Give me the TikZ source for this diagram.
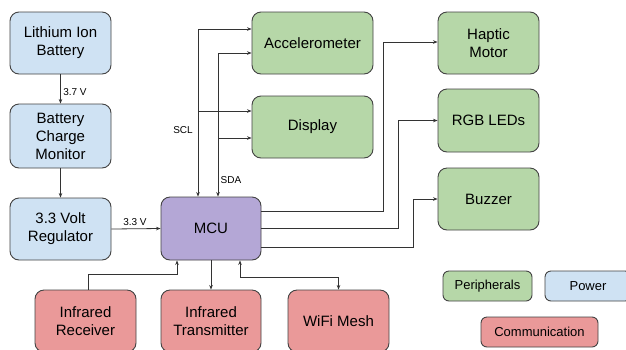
\documentclass[tikz,border=0pt]{standalone}
\usepackage{fontspec}
\setmainfont{Liberation Sans}
\usetikzlibrary{arrows.meta,calc}
\definecolor{pwr}{HTML}{CFE2F3}
\definecolor{per}{HTML}{B6D7A8}
\definecolor{mcuc}{HTML}{B4A7D6}
\definecolor{com}{HTML}{EA9999}
\definecolor{edge}{HTML}{434343}
\definecolor{wire}{HTML}{333333}
\tikzset{
  box/.style={draw=edge, line width=0.9pt, rounded corners=9pt, inner sep=0pt, align=center,
    font=\fontsize{15}{18}\selectfont, minimum width=101pt, minimum height=62pt},
  pbox/.style={box, fill=pwr},
  gbox/.style={box, fill=per},
  rbox/.style={box, fill=com},
  lgd/.style={draw=edge, line width=0.9pt, rounded corners=6pt, inner sep=0pt,
    font=\fontsize{13}{15}\selectfont, minimum height=30pt},
  arr/.style={draw=wire, line width=0.8pt, -{Stealth[length=4.5pt,width=3.5pt]}},
  arrb/.style={draw=wire, line width=0.8pt, {Stealth[length=4.5pt,width=3.5pt]}-{Stealth[length=4.5pt,width=3.5pt]}},
  lbl/.style={font=\fontsize{10}{12}\selectfont, inner sep=0pt}
}
\begin{document}
\begin{tikzpicture}[x=1pt,y=-1pt]
\fill[white] (0,0) rectangle (626,349);
\useasboundingbox (0,0) rectangle (626,349);
% power column
\node[pbox] (bat) at (60.5,43) {Lithium Ion\\Battery};
\node[pbox, minimum height=64pt] (bcm) at (60.5,136) {Battery\\Charge\\Monitor};
\node[pbox] (reg) at (60.5,229) {3.3 Volt\\Regulator};
% MCU
\node[box, fill=mcuc, minimum width=100pt, minimum height=63pt] (mcu) at (211,228.5) {MCU};
% peripherals
\node[gbox, minimum width=121pt] (acc) at (312.5,43) {Accelerometer};
\node[gbox, minimum width=121pt] (disp) at (312.5,127) {Display};
\node[gbox] (hap) at (488.5,43) {Haptic\\Motor};
\node[gbox, minimum height=63pt] (rgb) at (488.5,120.5) {RGB LEDs};
\node[gbox] (buz) at (488.5,199) {Buzzer};
% communication
\node[rbox] (irr) at (85.5,321) {Infrared\\Receiver};
\node[rbox, minimum width=100pt] (irt) at (211,321) {Infrared\\Transmitter};
\node[rbox] (wifi) at (338.5,321) {WiFi Mesh};
% legend
\node[lgd, fill=per, minimum width=89pt] (lper) at (487.5,286) {Peripherals};
\node[lgd, fill=pwr, minimum width=86pt] (lpow) at (588,286) {Power};
\node[lgd, fill=com, minimum width=117pt] (lcom) at (539.5,332) {Communication};
% power connectors
\draw[arr] (bat.south) -- (bcm.north);
\node[lbl] (v37) at (75,92) {3.7 V};
\draw[arr] (bcm.south) -- (reg.north);
\draw[arr] (reg.east) -- (mcu.west);
\node[lbl] (v33) at (135,222) {3.3 V};
% I2C bus
\coordinate (scl) at (198,29);
\coordinate (sda) at (218,53);
\draw[arr] (scl) -- (scl -| acc.west);
\draw[arr] (scl) -- (scl |- mcu.north);
\draw[arr] (scl |- 0,111) -- (disp.west |- 0,111);
\draw[arr] (sda) -- (sda -| acc.west);
\draw[arr] (sda) -- (sda |- mcu.north);
\draw[arr] (sda |- 0,138) -- (disp.west |- 0,138);
\node[lbl] (scllbl) at (183,130) {SCL};
\node[lbl] (sdalbl) at (231,180) {SDA};
% MCU outputs
\draw[arr] ([yshift=17pt]mcu.east) -- ++(122,0) |- ([yshift=1pt]hap.west);
\draw[arr] (mcu.east) -- ++(137,0) |- (rgb.west);
\draw[arr] ([yshift=-19pt]mcu.east) -- ++(152,0) |- (buz.west);
% communication connectors
\draw[arr] ([xshift=2.5pt]irr.north) |- (177,274) -- ([xshift=-34pt]mcu.south);
\draw[arr] (mcu.south) -- (irt.north);
\draw[arrb] ([xshift=29pt]mcu.south) -- ++(0,17) -| (wifi.north);
\end{tikzpicture}
\end{document}
